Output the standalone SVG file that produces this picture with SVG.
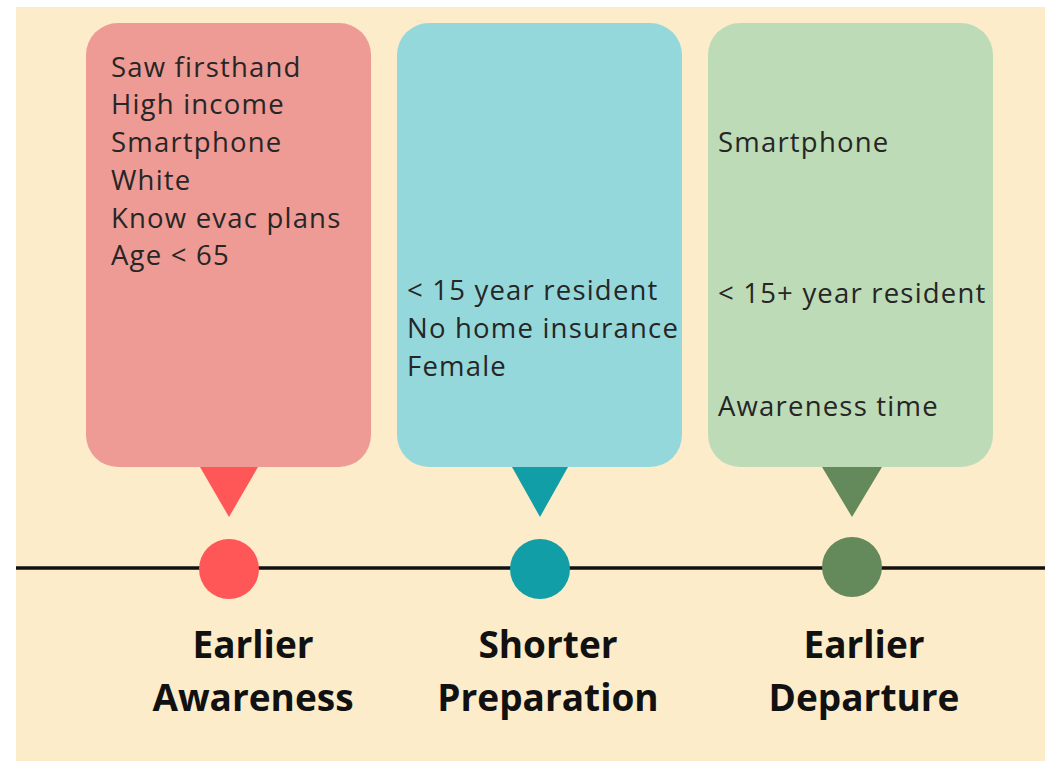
<svg xmlns="http://www.w3.org/2000/svg" width="1045" height="761" viewBox="0 0 1045 761">
<style>
.box{font-family:"Open Sans","Liberation Sans",sans-serif;font-size:27.5px;letter-spacing:1.2px;fill:#262626}
.lbl{font-family:"Open Sans","Liberation Sans",sans-serif;font-size:37px;font-weight:bold;fill:#111;text-anchor:middle}
</style>
<rect width="1045" height="761" fill="#ffffff"/>
<rect x="16" y="7" width="1029" height="754" fill="#fcecca"/>
<g id="connectors">
<line x1="16" y1="568" x2="1045" y2="568" stroke="#111" stroke-width="3.5"/>
</g>
<g id="awareness">
<rect x="86" y="23" width="285" height="444" rx="32" fill="#ee9a95"/>
<polygon points="200,467 258,467 229,517" fill="#ff5757"/>
<circle cx="229" cy="569" r="30" fill="#ff5757"/>
<text class="box" x="111" y="77">Saw firsthand</text>
<text class="box" x="111" y="114">High income</text>
<text class="box" x="111" y="152">Smartphone</text>
<text class="box" x="111" y="190">White</text>
<text class="box" x="111" y="228">Know evac plans</text>
<text class="box" x="111" y="265">Age &lt; 65</text>
<text class="lbl" x="253" y="658">Earlier</text>
<text class="lbl" x="253" y="711">Awareness</text>
</g>
<g id="preparation">
<rect x="397" y="23" width="285" height="444" rx="32" fill="#95d8dc"/>
<polygon points="512,467 568,467 540,517" fill="#129ea6"/>
<circle cx="540" cy="569" r="30" fill="#129ea6"/>
<text class="box" x="407" y="300">&lt; 15 year resident</text>
<text class="box" x="407" y="338">No home insurance</text>
<text class="box" x="407" y="376">Female</text>
<text class="lbl" x="548" y="658">Shorter</text>
<text class="lbl" x="548" y="711">Preparation</text>
</g>
<g id="departure">
<rect x="708" y="23" width="285" height="444" rx="32" fill="#bddbb7"/>
<polygon points="822,467 882,467 852,517" fill="#648a5b"/>
<circle cx="852" cy="567" r="30" fill="#648a5b"/>
<text class="box" x="718" y="152">Smartphone</text>
<text class="box" x="718" y="303">&lt; 15+ year resident</text>
<text class="box" x="718" y="416">Awareness time</text>
<text class="lbl" x="864" y="658">Earlier</text>
<text class="lbl" x="864" y="711">Departure</text>
</g>
</svg>
